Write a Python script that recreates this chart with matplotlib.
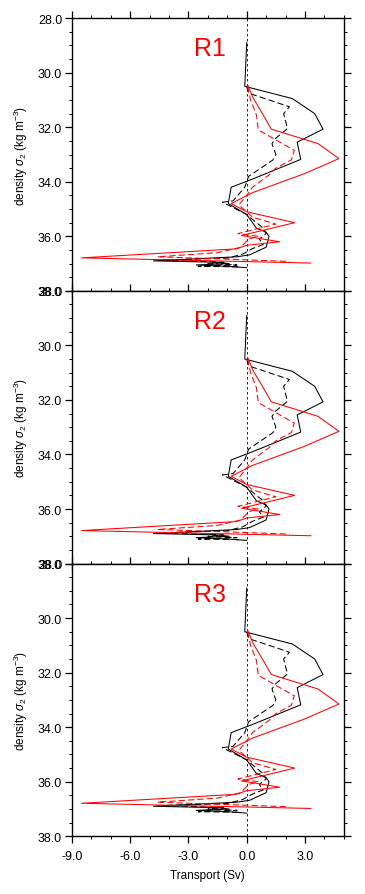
import numpy as np
import matplotlib
matplotlib.use("Agg")
import matplotlib.pyplot as plt
from matplotlib.ticker import MultipleLocator, FormatStrFormatter

plt.rcParams['font.family'] = ['Liberation Sans', 'DejaVu Sans']
plt.rcParams['mathtext.fontset'] = 'custom'
plt.rcParams['mathtext.rm'] = 'Liberation Sans'
plt.rcParams['mathtext.it'] = 'Liberation Sans:italic'

panels = ['R1', 'R2', 'R3']

# black solid
bs_y = [28.9, 30.5, 30.95, 31.5, 32.07, 32.55, 33.18, 33.9, 34.2, 34.8, 35.2, 35.7,
        35.85, 36.0, 36.4, 36.68, 36.75, 36.9, 36.95, 37.0, 37.05, 37.1, 37.15]
bs_x = [0.0, -0.1, 2.35, 3.5, 3.93, 2.6, 2.78, 0.3, -0.8, -0.95, 0.0, 0.5,
        1.0, 1.15, 1.0, 0.15, -0.5, -4.8, -1.5, -0.9, -2.6, -1.0, 0.0]

# black dashed
bd_y = [30.5, 30.75, 31.25, 31.5, 32.05, 32.4, 32.6, 33.0, 33.2, 33.8, 34.2, 34.7,
        34.75, 35.2, 35.5, 35.7, 35.9, 36.1, 36.3, 36.45, 36.65, 36.8, 36.87, 36.95,
        37.0, 37.05, 37.1, 37.12]
bd_x = [0.0, 0.1, 2.2, 1.9, 2.1, 1.5, 1.3, 1.5, 1.35, 0.1, -0.1, -0.7,
        -1.25, 0.0, 0.5, 0.85, 1.0, 0.65, 0.85, 0.3, -0.2, -1.0, -4.3, -1.2,
        -2.0, -0.5, -2.5, -0.3]

# red solid
rs_y = [30.45, 30.95, 31.55, 32.07, 32.6, 33.15, 33.7, 34.4, 34.8, 35.1, 35.5,
        35.97, 36.2, 36.33, 36.46, 36.79, 36.98]
rs_x = [0.05, 0.35, 0.85, 1.27, 3.67, 4.75, 2.98, 0.3, -0.8, 0.0, 2.47,
        -0.27, 1.7, 0.0, -0.53, -8.5, 3.3]

# red dashed
rd_y = [30.5, 31.0, 31.55, 32.1, 32.85, 33.2, 33.5, 33.75, 34.2, 34.5, 34.85, 35.3,
        35.55, 35.9, 36.0, 36.1, 36.4, 36.6, 36.75, 36.85, 36.92]
rd_x = [0.05, 0.2, 0.5, 0.6, 2.45, 2.3, 1.5, 1.15, 0.3, 0.0, -0.4, 0.3,
        1.5, -0.45, 0.6, 0.1, -0.3, -1.5, -4.6, -0.5, 2.2]

fig = plt.figure(figsize=(3.65, 8.95), dpi=100)
left, width = 0.197, 0.745
h = 0.3047
bottoms = [0.6739, 0.3692, 0.0645]

for i, name in enumerate(panels):
    ax = fig.add_axes([left, bottoms[i], width, h])
    ax.axvline(0, color='black', lw=0.6, ls=(0, (3, 3)))
    ax.plot(bs_x, bs_y, color='black', lw=0.75)
    ax.plot(bd_x, bd_y, color='black', lw=0.75, ls=(0, (6, 3)))
    ax.plot(rs_x, rs_y, color='red', lw=0.75)
    ax.plot(rd_x, rd_y, color='red', lw=0.75, ls=(0, (6, 3)))
    ax.set_xlim(-9, 5)
    ax.set_ylim(38, 28)
    ax.xaxis.set_major_locator(MultipleLocator(3))
    ax.xaxis.set_minor_locator(MultipleLocator(1))
    ax.yaxis.set_major_locator(MultipleLocator(2))
    ax.yaxis.set_minor_locator(MultipleLocator(0.5))
    ax.xaxis.set_major_formatter(FormatStrFormatter('%.1f'))
    ax.yaxis.set_major_formatter(FormatStrFormatter('%.1f'))
    ax.tick_params(which='both', direction='out', top=True, right=True,
                   labelsize=9, width=0.9)
    ax.tick_params(which='major', length=5, pad=2)
    ax.tick_params(axis='x', which='major', pad=5)
    ax.tick_params(which='minor', length=2.5, width=0.7)
    if i < 2:
        ax.tick_params(labelbottom=False)
    else:
        ax.set_xlabel('Transport (Sv)', fontsize=8.5, labelpad=5)
    for s in ax.spines.values():
        s.set_linewidth(1.0)
    ax.set_ylabel(r'density $\sigma_2$ (kg m$^{-3}$)', fontsize=8.5)
    ax.yaxis.set_label_coords(-0.155, 0.5)
    ax.text(-1.9, 29.1, name, color='red', fontsize=18, ha='center', va='center')

fig.savefig('out.png', dpi=100)
